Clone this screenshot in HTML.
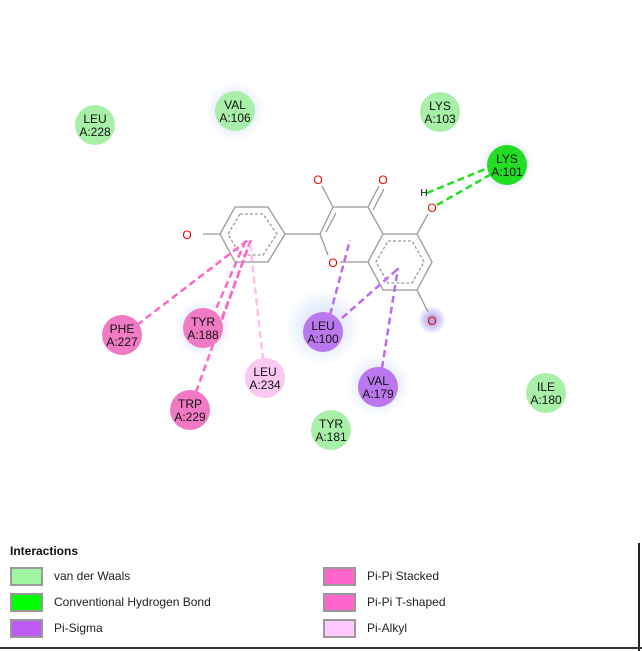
<!DOCTYPE html><html><head><style>body{margin:0;background:#fff}svg{display:block}text{font-family:"Liberation Sans",sans-serif}</style></head><body>
<svg width="642" height="651" viewBox="0 0 642 651">
<defs><radialGradient id="halo"><stop offset="0.5" stop-color="#e4ecfb"/><stop offset="1" stop-color="#e4ecfb" stop-opacity="0"/></radialGradient>
<radialGradient id="ph"><stop offset="0.2" stop-color="#b0a8f0"/><stop offset="1" stop-color="#b0a8f0" stop-opacity="0"/></radialGradient></defs>
<circle cx="235" cy="111" r="30" fill="url(#halo)"/>
<circle cx="203" cy="328" r="30" fill="url(#halo)"/>
<circle cx="323" cy="327" r="38" fill="url(#halo)"/>
<circle cx="378" cy="385" r="32" fill="url(#halo)"/>
<circle cx="507" cy="165" r="28" fill="url(#halo)"/>
<circle cx="432" cy="320" r="14" fill="url(#ph)"/>
<g stroke="#999" stroke-width="1.3" fill="none">
<polygon points="235,207 268,207 285,234 268,262 235,262 220,234"/>
<polygon points="240,214 263,214 277,234 263,255 240,255 228,234" stroke-dasharray="3,2"/>
<polyline points="285,234 320,234 333,207 368,207 383,234 368,262 340,262"/>
<line x1="320" y1="234" x2="328" y2="255"/>
<line x1="326" y1="232" x2="336" y2="213"/>
<polyline points="383,234 417,234 432,262 417,290 383,290 368,262"/>
<polygon points="388,241 412,241 424,262 412,283 388,283 376,262" stroke-dasharray="3,2"/>
<line x1="203" y1="234" x2="220" y2="234"/>
<line x1="333" y1="207" x2="322" y2="186"/>
<line x1="368" y1="207" x2="379" y2="186"/><line x1="373" y1="210" x2="384" y2="189"/>
<line x1="417" y1="234" x2="428" y2="214"/>
<line x1="417" y1="290" x2="428" y2="312"/>
</g>
<g fill="#e00" font-size="12" text-anchor="middle">
<text x="187" y="239">O</text><text x="318" y="184">O</text><text x="383" y="184">O</text>
<text x="333" y="267">O</text><text x="432" y="212">O</text><text x="432" y="325">O</text></g>
<text x="424" y="196" font-size="10" text-anchor="middle">H</text>
<g stroke-width="2.5" fill="none" stroke-dasharray="7,4">
<line x1="427" y1="193" x2="495" y2="165" stroke="#1ee01e"/><line x1="437" y1="205" x2="495" y2="172" stroke="#1ee01e"/>
<line x1="137" y1="325" x2="248" y2="240" stroke="#ff66c4"/>
<line x1="212" y1="318" x2="246" y2="240" stroke="#ff66c4"/>
<line x1="222" y1="318" x2="251" y2="240" stroke="#ff66c4"/>
<line x1="196" y1="392" x2="250" y2="242" stroke="#ff66c4"/>
<line x1="263" y1="360" x2="250" y2="242" stroke="#ffc0f0"/>
<line x1="330" y1="315" x2="350" y2="240" stroke="#b96cf0"/>
<line x1="342" y1="318" x2="399" y2="268" stroke="#b96cf0"/>
<line x1="382" y1="368" x2="398" y2="268" stroke="#b96cf0"/>
</g>
<g font-size="12" text-anchor="middle" fill="#111">
<g fill="#a8f0a8"><circle cx="95" cy="125" r="20"/><circle cx="235" cy="111" r="20"/><circle cx="440" cy="112" r="20"/><circle cx="331" cy="430" r="20"/><circle cx="546" cy="393" r="20"/></g>
<circle cx="507" cy="165" r="20" fill="#22dd22"/>
<g fill="#f07ac4"><circle cx="122" cy="335" r="20"/><circle cx="203" cy="328" r="20"/><circle cx="190" cy="410" r="20"/></g>
<circle cx="265" cy="378" r="20" fill="#fbc8f2"/>
<g fill="#bb78ee"><circle cx="323" cy="332" r="20"/><circle cx="378" cy="387" r="20"/></g>
<text x="95" y="123">LEU</text><text x="95" y="136">A:228</text>
<text x="235" y="109">VAL</text><text x="235" y="122">A:106</text>
<text x="440" y="110">LYS</text><text x="440" y="123">A:103</text>
<text x="507" y="163">LYS</text><text x="507" y="176">A:101</text>
<text x="122" y="333">PHE</text><text x="122" y="346">A:227</text>
<text x="203" y="326">TYR</text><text x="203" y="339">A:188</text>
<text x="323" y="330">LEU</text><text x="323" y="343">A:100</text>
<text x="378" y="385">VAL</text><text x="378" y="398">A:179</text>
<text x="265" y="376">LEU</text><text x="265" y="389">A:234</text>
<text x="190" y="408">TRP</text><text x="190" y="421">A:229</text>
<text x="331" y="428">TYR</text><text x="331" y="441">A:181</text>
<text x="546" y="391">ILE</text><text x="546" y="404">A:180</text>
</g>
<text x="10" y="555" font-size="12" font-weight="bold" fill="#111">Interactions</text>
<g stroke="#999" stroke-width="2">
<rect x="11" y="568" width="31" height="17" fill="#a0f5a0"/><rect x="11" y="594" width="31" height="17" fill="#00ff00"/><rect x="11" y="620" width="31" height="17" fill="#bf5cf5"/>
<rect x="324" y="568" width="31" height="17" fill="#ff66cc"/><rect x="324" y="594" width="31" height="17" fill="#ff66cc"/><rect x="324" y="620" width="31" height="17" fill="#ffc8ff"/></g>
<g font-size="12" fill="#222">
<text x="54" y="580">van der Waals</text><text x="54" y="606">Conventional Hydrogen Bond</text><text x="54" y="632">Pi-Sigma</text>
<text x="367" y="580">Pi-Pi Stacked</text><text x="367" y="606">Pi-Pi T-shaped</text><text x="367" y="632">Pi-Alkyl</text></g>
<line x1="639" y1="543" x2="639" y2="651" stroke="#222" stroke-width="2"/>
<line x1="0" y1="648" x2="642" y2="648" stroke="#333" stroke-width="2"/>
</svg></body></html>
